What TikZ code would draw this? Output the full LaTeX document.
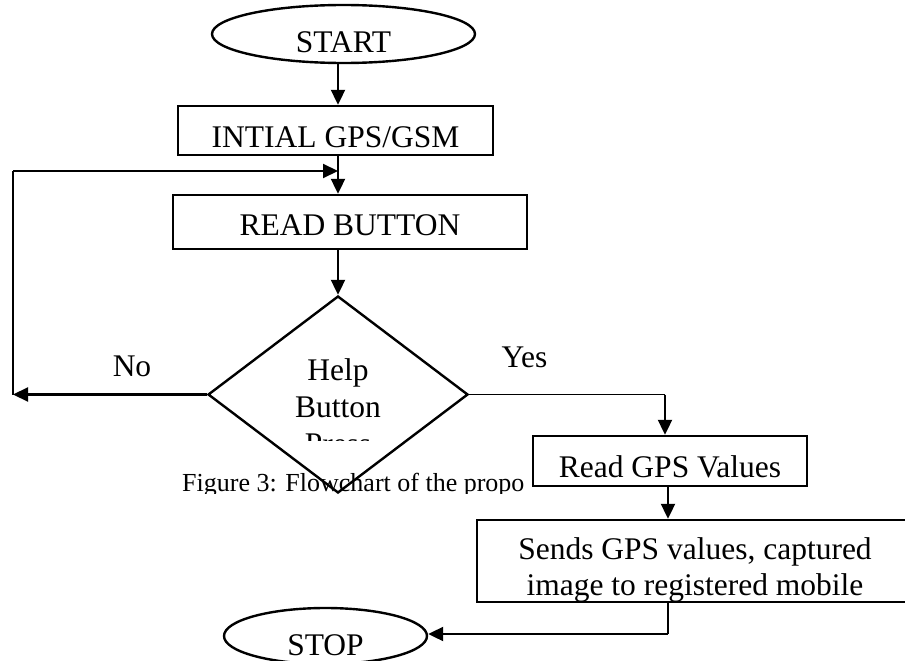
\documentclass[tikz,border=0pt]{standalone}
\usepackage{fontspec}
\setmainfont{Liberation Serif}
\usetikzlibrary{shapes.geometric,arrows.meta}
\tikzset{
 big/.style={font=\fontsize{31.5}{36}\selectfont},
 box/.style={draw, line width=2.4pt, rectangle, inner sep=0pt, big, text depth=0pt},
 term/.style={draw, line width=2.4pt, ellipse, inner sep=0pt, big, text depth=0pt},
 decision/.style={draw, line width=2.4pt, diamond, inner sep=0pt},
 arr/.style={line width=2.1pt, -{Triangle[length=15pt,width=14pt]}},
 thinline/.style={line width=1.2pt},
 lbl/.style={big, inner sep=0pt, anchor=base},
}
\begin{document}
\begin{tikzpicture}[x=1pt,y=-1pt]
\useasboundingbox (0,0) rectangle (905,661);
\clip (0,0) rectangle (905,661);
% caption (clipped as in the source)
\begin{scope}
\clip (0,0) rectangle (905,493);
\node[font=\fontsize{26}{30}\selectfont, inner sep=0pt, anchor=base west] (cap) at (182,491) {Figure 3: Flowchart of the propo};
\end{scope}
\node[term, minimum width=263pt, minimum height=58pt, text height=38pt] (start) at (343.5,34) {START};
\node[box, minimum width=315pt, minimum height=49pt, text height=33pt] (init) at (335.5,130.5) {INTIAL GPS/GSM};
\node[box, minimum width=354pt, minimum height=54pt, text height=26pt] (read) at (350,222) {READ BUTTON};
\node[decision, minimum width=260pt, minimum height=197pt] (dec) at (338,394.5) {};
\node[lbl] (help) at (338,380) {Help};
\node[lbl] (button) at (338,417) {Button};
\begin{scope}
\clip (0,0) rectangle (905,440);
\node[lbl] (press) at (338,454) {Press};
\end{scope}
\node[lbl] (no) at (132,376) {No};
\node[lbl] (yes) at (524.5,367) {Yes};
\node[box, minimum width=274pt, minimum height=50pt, text height=32pt] (gps) at (670,461) {Read GPS Values};
\node[box, align=center, minimum width=436pt, minimum height=82pt, text height=68pt, text depth=0pt] (sends) at (695,561) {Sends GPS values, captured\\image to registered mobile};
\node[term, minimum width=203pt, minimum height=56pt, text height=38pt] (stop) at (325.5,636) {STOP};
% connectors
\coordinate (looptop) at (13,171);
\coordinate (loopbot) at (13,394.5);
\coordinate (yescorner) at (665,394.5);
\coordinate (stopcorner) at (668,634);
\draw[arr] (start.south -| dec.north) -- (init.north -| dec.north);
\draw[arr] (init.south -| dec.north) -- (read.north -| dec.north);
\draw[arr] (read.south -| dec.north) -- (dec.north);
\draw[arr] (dec.west) -- (loopbot);
\draw[thinline] (loopbot) -- (looptop);
\draw[arr] (looptop) -- (looptop -| dec.north);
\draw[thinline] (dec.east) -- (yescorner);
\draw[arr] (yescorner) -- (yescorner |- gps.north);
\draw[arr] (gps.south -| stopcorner) -- (sends.north -| stopcorner);
\draw[thinline] (sends.south -| stopcorner) -- (stopcorner);
\draw[arr] (stopcorner) -- (stop.east |- stopcorner);
\end{tikzpicture}
\end{document}
